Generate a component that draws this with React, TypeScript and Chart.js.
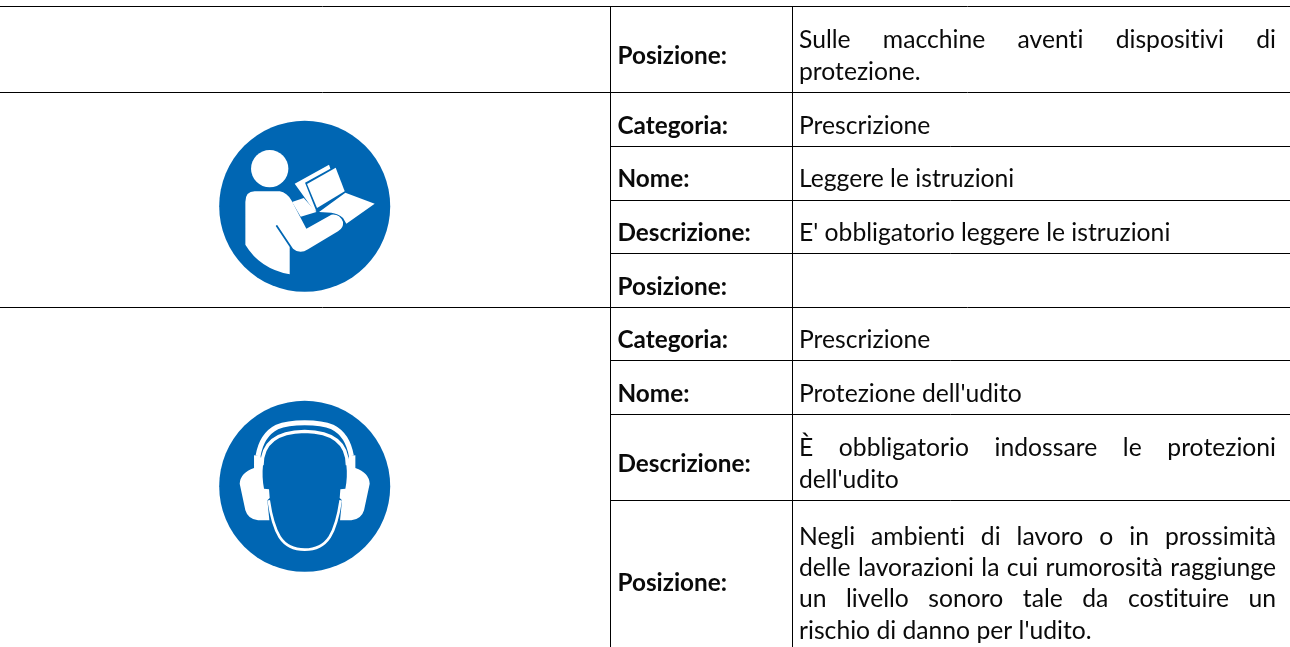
import React, { useEffect, useRef } from "react";
import { Chart, registerables } from "chart.js";

Chart.register(...registerables);

const WIDTH = 1290;
const HEIGHT = 647;

// Table rows: [label, baseline]
const rowLabels = ["Posizione:", "Categoria:", "Nome:", "Descrizione:", "Posizione:", "Categoria:", "Nome:", "Descrizione:", "Posizione:"];
const rowLabelBaselines = [64, 134, 187, 241, 295, 348, 402, 472, 591];

// Value lines: [text, baseline, justified]
const valueLines = [
  "Sulle macchine aventi dispositivi di",
  "protezione.",
  "Prescrizione",
  "Leggere le istruzioni",
  "E' obbligatorio leggere le istruzioni",
  "Prescrizione",
  "Protezione dell'udito",
  "È obbligatorio indossare le protezioni",
  "dell'udito",
  "Negli ambienti di lavoro o in prossimità",
  "delle lavorazioni la cui rumorosità raggiunge",
  "un livello sonoro tale da costituire un",
  "rischio di danno per l'udito.",
];
const valueBaselines = [48, 80, 134, 187, 241, 348, 402, 456, 488, 545, 576, 607, 639];
const valueJustified = [true, false, false, false, false, false, false, true, false, true, true, true, false];

// Rules of the table
const fullRules = [6.5, 92.5, 307.5];
const partRules = [146.5, 200.5, 253.5, 360.5, 414.5, 500.5];
const columnRules = [610.5, 792.5];

// Round signs
const signCentres = [
  { x: 304.7, y: 206.3 },
  { x: 304.7, y: 486.3 },
];

const BLUE = "#0066B3";
const LABEL_X = 617.5;
const VALUE_X = 799;
const VALUE_RIGHT = 1276;
const LABEL_FONT = "bold 24.3px Lato";
const VALUE_FONT = "24.7px Lato";

const tablePlugin = {
  id: "tableContent",
  afterDatasetsDraw(chart: any) {
    const ctx: any = chart.ctx;
    const sx = chart.scales.x;
    const sy = chart.scales.y;
    ctx.save();
    ctx.fillStyle = "#0a0a0a";
    ctx.textBaseline = "alphabetic";
    ctx.textAlign = "left";
    ctx.textRendering = "optimizeSpeed";

    ctx.font = LABEL_FONT;
    rowLabels.forEach((t, i) => {
      ctx.fillText(t, sx.getPixelForValue(LABEL_X), sy.getPixelForValue(rowLabelBaselines[i]));
    });

    ctx.font = VALUE_FONT;
    valueLines.forEach((t, i) => {
      const y = sy.getPixelForValue(valueBaselines[i]);
      const left = sx.getPixelForValue(VALUE_X);
      if (!valueJustified[i]) {
        ctx.fillText(t, left, y);
        return;
      }
      const words = t.split(" ");
      const total = words.reduce((a, w) => a + ctx.measureText(w).width, 0);
      const gap = (sx.getPixelForValue(VALUE_RIGHT) - left - total) / (words.length - 1);
      let x = left;
      words.forEach((w) => {
        ctx.fillText(w, x, y);
        x += ctx.measureText(w).width + gap;
      });
    });
    ctx.restore();

    // Sign glyphs, traced in a 630x600 box at a third of a pixel per unit
    const drawGlyph = (cx: number, cy: number, paint: () => void) => {
      ctx.save();
      ctx.translate(sx.getPixelForValue(cx) - 105, sy.getPixelForValue(cy) - 101);
      ctx.scale(1 / 3, 1 / 3);
      ctx.fillStyle = "#fff";
      ctx.strokeStyle = "#fff";
      paint();
      ctx.restore();
    };

    drawGlyph(signCentres[0].x, signCentres[0].y, () => {
      ctx.beginPath();
      ctx.arc(210, 190, 56, 0, Math.PI * 2);
      ctx.fill();
      ctx.fill(new Path2D("M165 258 L240 258 Q262 262 275 285 L320 370 L395 328 Q420 325 430 350 Q432 368 415 378 L325 432 Q300 448 280 430 L232 358 L228 362 L270 425 L270 507 Q180 490 137 418 L137 290 Q137 258 165 258 Z"));
      ctx.fill(new Path2D("M277 290 L312 278 L350 320 L303 334 Z"));
      ctx.fill(new Path2D("M285 235 L388 178 L392 190 L316 232 L350 318 L340 312 Z"));
      ctx.fill(new Path2D("M322 236 L408 187 L435 258 L352 308 Z"));
      ctx.fill(new Path2D("M437 262 L525 295 L440 355 L430 338 Q415 325 395 322 L358 320 Z"));
    });

    drawGlyph(signCentres[1].x, signCentres[1].y, () => {
      ctx.lineCap = "butt";
      ctx.lineWidth = 15;
      ctx.stroke(new Path2D("M175 212 Q186 148 232 125 Q262 112 315 112 Q368 112 398 125 Q444 148 455 212"));
      ctx.lineWidth = 10;
      ctx.stroke(new Path2D("M187 240 Q187 140 315 138 Q443 140 443 240"));
      ctx.lineWidth = 8;
      ctx.stroke(new Path2D("M207 345 Q218 420 240 455 Q265 493 315 493 Q365 493 390 455 Q412 420 423 345"));
      const cup = new Path2D("M163 210 L182 212 L190 238 Q186 275 193 310 L208 312 L210 338 L203 345 L209 405 L175 405 Q145 402 137 375 L120 295 Q122 262 163 248 Z");
      ctx.fill(cup);
      ctx.save();
      ctx.translate(630, 0);
      ctx.scale(-1, 1);
      ctx.fill(cup);
      ctx.restore();
    });
  },
};

export default function App() {
  const ref = useRef<HTMLCanvasElement | null>(null);
  useEffect(() => {
    document.body.style.margin = "0";
    const rule = (pts: { x: number; y: number }[]) => ({
      type: "line" as const,
      data: pts,
      borderColor: "#000",
      borderWidth: 1,
      pointRadius: 0,
      fill: false,
      tension: 0,
    });
    const chart = new Chart(ref.current as HTMLCanvasElement, {
      type: "scatter",
      data: {
        datasets: [
          ...fullRules.map((y) => rule([{ x: 0, y }, { x: WIDTH, y }])),
          ...partRules.map((y) => rule([{ x: columnRules[0], y }, { x: WIDTH, y }])),
          ...columnRules.map((x) => rule([{ x, y: fullRules[0] }, { x, y: HEIGHT }])),
          {
            type: "scatter" as const,
            data: signCentres,
            pointRadius: 85.5,
            pointHoverRadius: 85.5,
            pointBackgroundColor: BLUE,
            pointBorderWidth: 0,
            pointStyle: "circle",
          },
        ] as any,
      },
      options: {
        animation: false,
        responsive: false,
        devicePixelRatio: 1,
        layout: { padding: 0, autoPadding: false },
        plugins: { legend: { display: false }, tooltip: { enabled: false }, title: { display: false } },
        scales: {
          x: { type: "linear", display: false, min: 0, max: WIDTH },
          y: { type: "linear", display: false, min: 0, max: HEIGHT, reverse: true },
        },
      },
      plugins: [tablePlugin],
    });
    return () => chart.destroy();
  }, []);
  return (
    <canvas
      ref={ref}
      width={WIDTH}
      height={HEIGHT}
      style={{ display: "block", background: "#fff" }}
    />
  );
}
